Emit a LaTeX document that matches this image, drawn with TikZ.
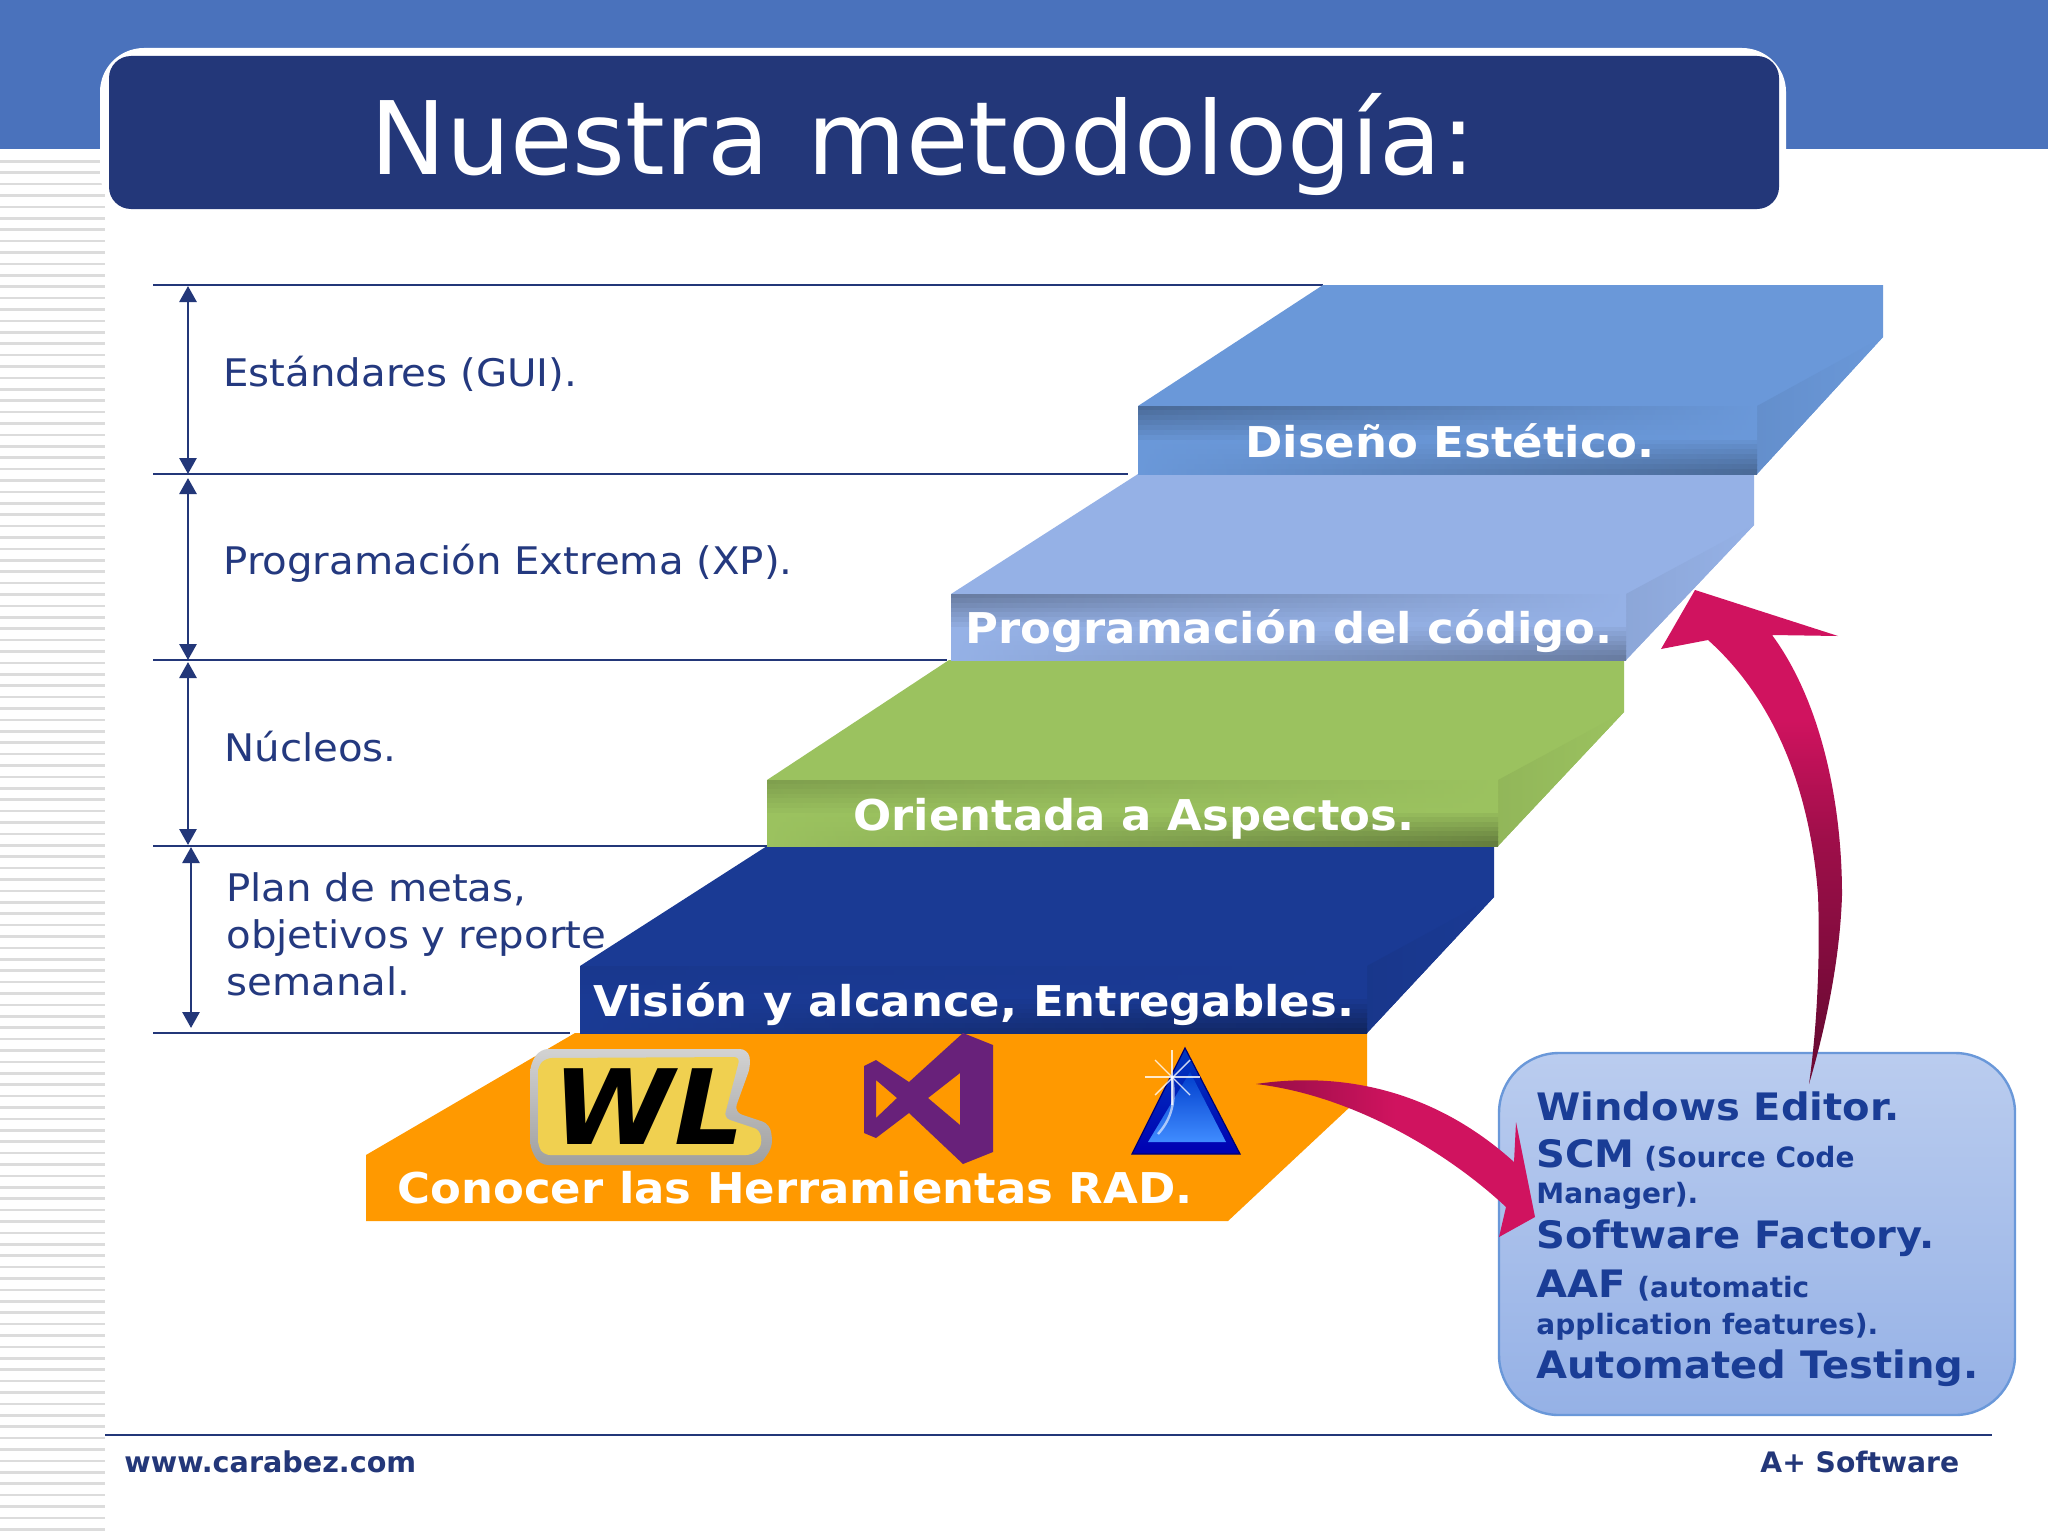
\documentclass[tikz,border=0pt]{standalone}
\usepackage{fontspec}
\setmainfont{DejaVu Sans}
\newfontfamily\wideface{DejaVu Sans}[FakeStretch=1.06]
\usetikzlibrary{arrows.meta}
\definecolor{bandblue}{HTML}{4A72BC}
\definecolor{navy}{HTML}{233779}
\definecolor{labelblue}{HTML}{24397F}
\definecolor{stripegray}{HTML}{DCDCDC}
\definecolor{disenotop}{HTML}{6A98D9}
\definecolor{progtop}{HTML}{95B1E6}
\definecolor{orientop}{HTML}{9BC25F}
\definecolor{visiontop}{HTML}{1A3A94}
\definecolor{radorange}{HTML}{FF9900}
\definecolor{arrowpink}{HTML}{D0135F}
\definecolor{arrowdark}{HTML}{6E0A35}
\definecolor{boxtext}{HTML}{1A3D96}
\definecolor{vspurple}{HTML}{68217A}
\definecolor{goldlight}{HTML}{F0D050}
\definecolor{goldmid}{HTML}{D9A520}
\pgfdeclareverticalshading{risefade}{100bp}{color(0bp)=(arrowdark); color(30bp)=(arrowdark); color(50bp)=(arrowdark!50!arrowpink); color(62bp)=(arrowpink); color(100bp)=(arrowpink)}
% front of a step: dark towards top left and bottom right
\newcommand{\frontface}[7]{
  \foreach \k in {0,...,13}{
    \pgfmathsetmacro{\ta}{100-#6*max(0,1-\k/7)}
    \pgfmathsetmacro{\tb}{100-#7*max(0,(\k-6)/7)}
    \pgfmathsetmacro{\ya}{#2+(#4-#2)*\k/14}
    \pgfmathsetmacro{\yb}{min(#4,#2+(#4-#2)*(\k+1)/14+1)}
    \shade[left color=#5!\ta!black, middle color=#5, right color=#5!\tb!black] (#1,\ya) rectangle (#3,\yb);
  }
}
\tikzset{
  rule/.style={draw=navy, line width=1.4pt},
  span/.style={draw=navy, line width=1.4pt, {Triangle[length=8pt,width=8.5pt]}-{Triangle[length=8pt,width=8.5pt]}},
  steplabel/.style={font=\wideface\bfseries\fontsize{#1}{#1}\selectfont, text=white},
  sidelabel/.style={font=\wideface\fontsize{19}{19}\selectfont, text=labelblue},
  boxbig/.style={font=\wideface\bfseries\fontsize{18.9}{18.9}\selectfont, text=boxtext},
  boxsmall/.style={font=\bfseries\fontsize{14}{14}\selectfont, text=boxtext},
  sidefade/.style={left color=#1!94!black, right color=#1},
  sparkle/.style={draw=white, line width=0.7pt, opacity=0.8},
}
\begin{document}
\begin{tikzpicture}[x=0.5pt, y=-0.5pt, every node/.style={inner sep=0pt, anchor=base west}]
\useasboundingbox (0,0) rectangle (2048,1536);
\fill[white] (0,0) rectangle (2048,1536);
% Background
\foreach \n in {0,...,121} \fill[stripegray] (0,{160+11.4*\n}) rectangle (105,{162.6+11.4*\n});
\fill[bandblue] (0,0) rectangle (2048,149);
\fill[white, rounded corners=22pt] (100,48) rectangle (1786,216);
\fill[navy, rounded corners=11pt] (109,56) rectangle (1779,209);
\node[font=\fontsize{50.7}{50.7}\selectfont, text=white] (title) at (370,174) {Nuestra\hspace{3pt} metodología:};
% Side rules
\coordinate (ruleA) at (153,285);
\coordinate (ruleB) at (153,474);
\coordinate (ruleC) at (153,660);
\coordinate (ruleD) at (153,846);
\coordinate (ruleE) at (153,1033);
\coordinate (ruleAend) at (1323,285);
\coordinate (ruleBend) at (1128,474);
\coordinate (ruleCend) at (947,660);
\coordinate (ruleDend) at (767,846);
\coordinate (ruleEend) at (570,1033);
\draw[rule] (ruleA) -- (ruleAend);
\draw[rule] (ruleB) -- (ruleBend);
\draw[rule] (ruleC) -- (ruleCend);
\draw[rule] (ruleD) -- (ruleDend);
\draw[rule] (ruleE) -- (ruleEend);
\coordinate (spanA) at (188,286);
\coordinate (spanB) at (188,474);
\coordinate (spanBb) at (188,478);
\coordinate (spanC) at (188,660);
\coordinate (spanCb) at (188,662);
\coordinate (spanD) at (188,845);
\coordinate (spanDb) at (191,847);
\coordinate (spanE) at (191,1028);
\draw[span] (spanA) -- (spanB);
\draw[span] (spanBb) -- (spanC);
\draw[span] (spanCb) -- (spanD);
\draw[span] (spanDb) -- (spanE);
\node[sidelabel] (gui) at (223,386) {Estándares (GUI).};
\node[sidelabel] (xp) at (223,574) {Programación Extrema (XP).};
\node[sidelabel] (nucleos) at (224,761) {Núcleos.};
\node[sidelabel] (plan1) at (226,901) {Plan de metas,};
\node[sidelabel] (plan2) at (226,948) {objetivos y reporte};
\node[sidelabel] (plan3) at (226,995) {semanal.};
% Step 1
\fill[radorange] (575,1033) -- (1367,1033) -- (1367,1091) -- (1228,1221) -- (366,1221) -- (366,1155) -- cycle;
\node[steplabel=21.2] (rad) at (397,1203) {Conocer las Herramientas RAD.};
% Step 2
\fill[visiontop] (767,846) -- (1494,846) -- (1494,897) -- (1367,1033) -- (580,1033) -- (580,966) -- cycle;
\shade[sidefade=visiontop] (1367,966) -- (1494,897) -- (1367,1033) -- cycle;
\frontface{580}{966}{1367}{1033}{visiontop}{5}{35}
\node[steplabel=21.2] (vision) at (593,1016) {Visión y alcance, Entregables.};
% Step 3
\fill[orientop] (949,660) -- (1624,660) -- (1624,712) -- (1498,846) -- (767,846) -- (767,780) -- cycle;
\shade[sidefade=orientop] (1498,780) -- (1624,712) -- (1498,846) -- cycle;
\frontface{767}{780}{1498}{846}{orientop}{18}{35}
\node[steplabel=21.2] (aspectos) at (853,830) {Orientada a Aspectos.};
% Step 4
\fill[progtop] (1138,474) -- (1754,474) -- (1754,525) -- (1626,660) -- (951,660) -- (951,594) -- cycle;
\shade[sidefade=progtop] (1626,594) -- (1754,525) -- (1626,660) -- cycle;
\frontface{951}{594}{1626}{660}{progtop}{30}{30}
\node[steplabel=21.2] (codigo) at (965,643) {Programación del código.};
% Step 5
\fill[disenotop] (1323,285) -- (1883,285) -- (1883,337) -- (1757,474) -- (1138,474) -- (1138,406) -- cycle;
\shade[sidefade=disenotop] (1757,406) -- (1883,337) -- (1757,474) -- cycle;
\frontface{1138}{406}{1757}{474}{disenotop}{30}{30}
\node[steplabel=21.2] (diseno) at (1245,457) {Diseño Estético.};
% WL logo
\shade[top color=gray!35, bottom color=gray!75, rounded corners=4pt] (540,1049) -- (748,1049) -- (751,1065) -- (734,1112) -- (770,1124) -- (773,1146) -- (760,1165) -- (540,1165) -- (530,1148) -- (530,1065) -- cycle;
\shade[top color=goldlight, middle color=goldmid, bottom color=goldlight, rounded corners=3pt] (546,1058) -- (740,1057) -- (724,1118) -- (760,1130) -- (762,1146) -- (752,1155) -- (544,1155) -- (538,1146) -- (538,1066) -- cycle;
\node[font=\wideface\bfseries\itshape\fontsize{52}{52}\selectfont, text=black] (wl) at (552,1144) {WL};
% VS logo
\fill[vspurple, even odd rule] (963,1033) -- (993,1045) -- (993,1152) -- (963,1164) -- (909,1113) -- (876,1138) -- (864,1133) -- (864,1066) -- (876,1060) -- (909,1082) -- cycle (960,1073) -- (960,1125) -- (928,1098) -- cycle (876,1080) -- (876,1118) -- (897,1098) -- cycle;
% Triangle logo
\shade[top color=blue!70!cyan!75!black, bottom color=blue!70!black, draw=blue!45!black, line width=0.6pt] (1185,1048) -- (1132,1154) -- (1240,1154) -- cycle;
\shade[top color=blue!70!cyan!80!black, bottom color=blue!60!cyan!75!white] (1190,1072) -- (1148,1142) -- (1226,1142) -- cycle;
\draw[white, opacity=0.6, line width=1.2pt] (1158,1134) .. controls (1175,1115) and (1175,1095) .. (1172,1077);
\coordinate (starW) at (1145,1077);
\coordinate (starE) at (1200,1077);
\coordinate (starN) at (1172,1050);
\coordinate (starS) at (1172,1105);
\coordinate (starNW) at (1155,1060);
\coordinate (starSE) at (1190,1095);
\coordinate (starNE) at (1190,1060);
\coordinate (starSW) at (1155,1095);
\draw[sparkle] (starW) -- (starE);
\draw[sparkle] (starN) -- (starS);
\draw[sparkle] (starNW) -- (starSE);
\draw[sparkle] (starNE) -- (starSW);
% Tools box
\shade[top color=progtop!65!white, bottom color=progtop, draw=disenotop, rounded corners=30pt, line width=1.2pt] (1499,1053) rectangle (2015,1415);
\node[boxbig] (windows) at (1536,1120) {Windows Editor.};
\node[boxbig] (scm) at (1536,1167) {SCM};
\node[boxsmall] (scmb) at (1644,1167) {(Source Code};
\node[boxsmall] (scmc) at (1536,1203) {Manager).};
\node[boxbig] (factory) at (1536,1248) {Software Factory.};
\node[boxbig] (aaf) at (1536,1297) {AAF};
\node[boxsmall] (aafb) at (1637,1297) {(automatic};
\node[boxsmall] (aafc) at (1536,1334) {application features).};
\node[boxbig] (testing) at (1536,1378) {Automated Testing.};
% Curved arrows
\shade[shading=risefade] (1695,590) -- (1838,636) -- (1772,635) .. controls (1820,700) and (1842,800) .. (1842,895) .. controls (1840,960) and (1825,1030) .. (1809,1084) .. controls (1818,1020) and (1820,950) .. (1818,895) .. controls (1810,790) and (1775,700) .. (1708,640) -- (1661,649) -- cycle;
\shade[left color=arrowdark!60!arrowpink, right color=arrowpink, middle color=arrowpink] (1256,1084) .. controls (1350,1070) and (1440,1095) .. (1514,1162) -- (1516,1122) -- (1535,1217) -- (1499,1237) -- (1506,1207) .. controls (1445,1150) and (1350,1095) .. (1256,1084) -- cycle;
% Footer
\coordinate (footA) at (105,1435);
\coordinate (footB) at (1992,1435);
\draw[rule] (footA) -- (footB);
\node[font=\bfseries\fontsize{14.3}{14.3}\selectfont, text=navy] (web) at (124,1472) {www.carabez.com};
\node[font=\bfseries\fontsize{14.1}{14.1}\selectfont, text=navy] (brand) at (1760,1472) {A+ Software};
\end{tikzpicture}
\end{document}
